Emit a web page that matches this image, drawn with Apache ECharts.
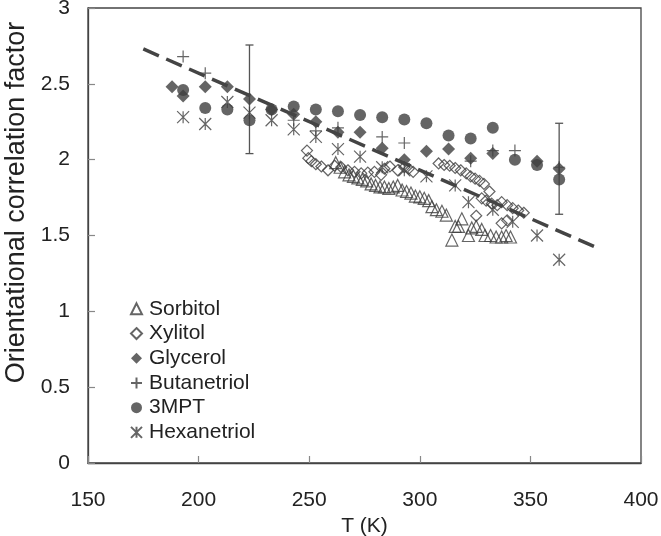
<!DOCTYPE html>
<html>
<head>
<meta charset="utf-8">
<script src="https://cdn.jsdelivr.net/npm/echarts@6/dist/echarts.min.js"></script>
<style>
  html, body { margin: 0; padding: 0; background: #fff; }
  #chart { width: 661px; height: 536px; }
</style>
</head>
<body>
<div id="chart"></div>
<script>
// axis ticks
const xTicks = [150, 200, 250, 300, 350, 400];
const yTicks = [0, 0.5, 1, 1.5, 2, 2.5, 3];

// Sorbitol (open triangles)
const sorbT = [262, 264, 266, 268, 270, 272, 274, 276, 278, 280, 282, 284, 286, 288, 290, 292, 294, 296, 298, 300,
  302, 304, 305.5, 307.5, 310, 312, 314.5, 316, 317.5, 319, 322, 323.5, 325.5, 328, 329.5, 332, 334.5, 337, 339, 341];
const sorbV = [1.98, 1.95, 1.92, 1.90, 1.89, 1.88, 1.87, 1.86, 1.84, 1.83, 1.82, 1.82, 1.81, 1.82, 1.83, 1.80, 1.79, 1.78, 1.76, 1.755,
  1.745, 1.73, 1.69, 1.67, 1.66, 1.635, 1.47, 1.56, 1.56, 1.61, 1.50, 1.55, 1.56, 1.54, 1.50, 1.50, 1.49, 1.49, 1.50, 1.49];

// Xylitol (open diamonds)
const xylT = [249, 249.6, 251, 253, 255.5, 258.5, 261.5, 264.5, 267.5, 270.5, 273.5, 276.5, 279.5, 282.5, 284, 286.5, 290, 293, 295, 297,
  308.5, 311, 313.5, 316, 318.5, 321, 323, 325, 327, 329, 331.5, 328, 330, 332.5, 335, 337, 339.5, 342, 344.5, 347, 325.5, 337, 339.5];
const xylV = [2.06, 2.01, 1.99, 1.97, 1.955, 1.93, 1.96, 1.95, 1.93, 1.92, 1.91, 1.915, 1.92, 1.90, 1.94, 1.955, 1.93, 1.95, 1.94, 1.92,
  1.975, 1.965, 1.96, 1.945, 1.93, 1.91, 1.89, 1.875, 1.86, 1.84, 1.79, 1.745, 1.73, 1.71, 1.70, 1.72, 1.70, 1.68, 1.665, 1.65, 1.63, 1.58, 1.60];

// Glycerol (filled diamonds)
const glyT = [188, 193, 203, 213, 223, 233, 243, 253, 263, 273, 283, 293, 303, 313, 323, 333, 353, 363];
const glyV = [2.48, 2.42, 2.48, 2.48, 2.40, 2.33, 2.30, 2.25, 2.18, 2.18, 2.075, 2.0, 2.055, 2.07, 2.01, 2.04, 1.99, 1.94];

// Butanetriol (+)
const butT = [193, 203, 243, 253, 263, 283, 293, 323, 333, 343, 363];
const butV = [2.68, 2.57, 2.26, 2.19, 2.21, 2.15, 2.11, 1.99, 2.06, 2.06, 1.95];

// 3MPT (filled circles)
const mptT = [193, 203, 213, 223, 233, 243, 253, 263, 273, 283, 293, 303, 313, 323, 333, 343, 353, 363];
const mptV = [2.46, 2.34, 2.33, 2.26, 2.33, 2.35, 2.33, 2.32, 2.295, 2.28, 2.265, 2.24, 2.16, 2.14, 2.21, 2.0, 1.965, 1.87];

// Hexanetriol (asterisks)
const hexT = [193, 203, 213, 223, 233, 243, 253, 263, 273, 283, 293, 303, 316, 322, 333, 342, 353, 363];
const hexV = [2.28, 2.235, 2.38, 2.31, 2.26, 2.20, 2.15, 2.07, 2.02, 1.95, 1.93, 1.89, 1.83, 1.72, 1.67, 1.59, 1.50, 1.34];

// dashed trend line
const fitT = [175, 380];
const fitV = [2.73, 1.42];

// error bars
const errT = [223, 363];
const errLow = [2.04, 1.64];
const errHigh = [2.756, 2.24];

const FONT = 'Liberation Sans, Arial, sans-serif';
const DARK = '#3f3f3f';

const zip = (a, b) => a.map((v, i) => [v, b[i]]);

const chart = echarts.init(document.getElementById('chart'), null, { renderer: 'canvas' });

const hollow = { color: 'rgba(0,0,0,0)', borderColor: DARK, borderWidth: 1.2 };

chart.setOption({
  animation: false,
  backgroundColor: '#fff',
  grid: {
    left: 88, right: 20, top: 8, bottom: 73,
    outerBoundsMode: 'none', containLabel: false,
    show: true, borderColor: '#444', borderWidth: 1.3, backgroundColor: 'transparent'
  },
  legend: {
    orient: 'vertical',
    left: 125, top: 293,
    itemWidth: 11, itemHeight: 11, itemGap: 3,
    textStyle: { fontFamily: FONT, fontSize: 21, color: '#222', lineHeight: 21.7, padding: [0, 0, 0, 2] },
    data: ['Sorbitol', 'Xylitol', 'Glycerol', 'Butanetriol', '3MPT', 'Hexanetriol']
  },
  xAxis: {
    type: 'value', min: 150, max: 400, interval: 50,
    name: 'T (K)', nameLocation: 'middle', nameGap: 44,
    nameTextStyle: { fontFamily: FONT, fontSize: 21, color: '#222' },
    axisLine: { lineStyle: { color: '#444', width: 1.3 } },
    axisTick: { inside: true, length: 7, lineStyle: { color: '#888', width: 1.2 } },
    axisLabel: { fontFamily: FONT, fontSize: 21, color: '#222', margin: 27 },
    splitLine: { show: false }
  },
  yAxis: {
    type: 'value', min: 0, max: 3, interval: 0.5,
    name: 'Orientational correlation factor', nameLocation: 'middle', nameGap: 54,
    nameTextStyle: { fontFamily: FONT, fontSize: 27, color: '#222', padding: [0, 0, 0, 66] },
    axisLine: { lineStyle: { color: '#444', width: 1.3 } },
    axisTick: { inside: true, length: 7, lineStyle: { color: '#888', width: 1.2 } },
    axisLabel: { fontFamily: FONT, fontSize: 21, color: '#222', margin: 18 },
    splitLine: { show: false }
  },
  series: [
    {
      type: 'custom', name: 'err', silent: true, z: 1,
      data: errT.map((t, i) => [t, errLow[i], errHigh[i]]),
      renderItem: (params, api) => {
        const lo = api.coord([api.value(0), api.value(1)]);
        const hi = api.coord([api.value(0), api.value(2)]);
        const cap = 4;
        const style = { stroke: '#555', lineWidth: 1.3 };
        return {
          type: 'group',
          children: [
            { type: 'line', shape: { x1: lo[0], y1: lo[1], x2: hi[0], y2: hi[1] }, style },
            { type: 'line', shape: { x1: lo[0] - cap, y1: lo[1], x2: lo[0] + cap, y2: lo[1] }, style },
            { type: 'line', shape: { x1: hi[0] - cap, y1: hi[1], x2: hi[0] + cap, y2: hi[1] }, style }
          ]
        };
      }
    },
    {
      type: 'scatter', name: 'Sorbitol', symbol: 'triangle', symbolSize: 12,
      itemStyle: hollow, data: zip(sorbT, sorbV), z: 2
    },
    {
      type: 'scatter', name: 'Xylitol', symbol: 'diamond', symbolSize: 11,
      itemStyle: hollow, data: zip(xylT, xylV), z: 2
    },
    {
      type: 'scatter', name: 'Glycerol', symbol: 'diamond', symbolSize: 13,
      itemStyle: { color: DARK }, data: zip(glyT, glyV), z: 3
    },
    {
      type: 'scatter', name: 'Butanetriol', symbol: 'path://M5,0L5,10M0,5L10,5', symbolSize: 12,
      itemStyle: hollow, data: zip(butT, butV), z: 3
    },
    {
      type: 'scatter', name: '3MPT', symbol: 'circle', symbolSize: 12,
      itemStyle: { color: DARK }, data: zip(mptT, mptV), z: 3
    },
    {
      type: 'scatter', name: 'Hexanetriol', symbol: 'path://M0,0L10,10M10,0L0,10M5,0L5,10', symbolSize: 12,
      itemStyle: hollow, data: zip(hexT, hexV), z: 3
    },
    {
      type: 'line', name: 'fit', data: zip(fitT, fitV), symbol: 'none', z: 4, silent: true,
      lineStyle: { color: '#444', width: 3.5, type: [17, 8] }
    }
  ]
});
</script>
</body>
</html>
